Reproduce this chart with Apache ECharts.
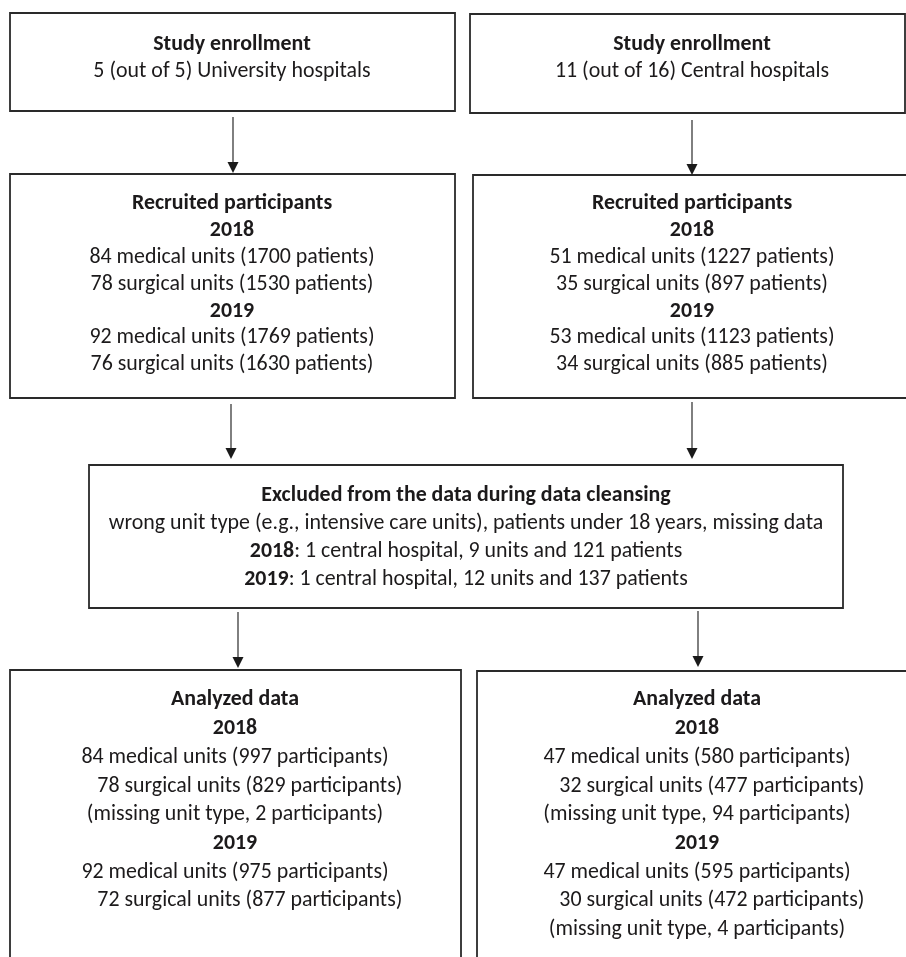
<!DOCTYPE html>
<html>
<head>
<meta charset="utf-8">
<script src="https://cdn.jsdelivr.net/npm/echarts@6/dist/echarts.min.js"></script>
<style>
html,body{margin:0;padding:0;background:#fff;}
#chart{width:906px;height:957px;}
</style>
</head>
<body>
<div id="chart"></div>
<script>
// ---------- content ----------
const enrollTitle = "Study enrollment";
const enrollLeft = "5 (out of 5) University hospitals";
const enrollRight = "11 (out of 16) Central hospitals";
const recruitTitle = "Recruited participants";
const years = ["2018", "2019"];
const recruitLeft = [
  ["84 medical units (1700 patients)", "78 surgical units (1530 patients)"],
  ["92 medical units (1769 patients)", "76 surgical units (1630 patients)"]
];
const recruitRight = [
  ["51 medical units (1227 patients)", "35 surgical units (897 patients)"],
  ["53 medical units (1123 patients)", "34 surgical units (885 patients)"]
];
const excludedTitle = "Excluded from the data during data cleansing";
const excludedReason = "wrong unit type (e.g., intensive care units), patients under 18 years, missing data";
const excludedByYear = [
  "1 central hospital, 9 units and 121 patients",
  "1 central hospital, 12 units and 137 patients"
];
const analyzedTitle = "Analyzed data";
const IND = "\u00a0\u00a0\u00a0\u00a0\u00a0\u00a0";
const analyzedLeft = [
  ["84 medical units (997 participants)", IND + "78 surgical units (829 participants)", "(missing unit type, 2 participants)"],
  ["92 medical units (975 participants)", IND + "72 surgical units (877 participants)"]
];
const analyzedRight = [
  ["47 medical units (580 participants)", IND + "32 surgical units (477 participants)", "(missing unit type, 94 participants)"],
  ["47 medical units (595 participants)", IND + "30 surgical units (472 participants)", "(missing unit type, 4 participants)"]
];

// ---------- styles ----------
const FONT = "Carlito, Lato, 'Open Sans', sans-serif";
const TXT = "#1c1a1b";
const LINE = "#2a2a2a";
const cv = document.createElement('canvas').getContext('2d');
cv.font = "normal 100px " + FONT;
const FS = Math.min(22, 100 * 715 / cv.measureText(excludedReason).width);

const chart = echarts.init(document.getElementById('chart'), null, {renderer: 'canvas'});
const els = [];

function box(x, y, w, h) {
  els.push({type: 'rect', shape: {x: x, y: y, width: w, height: h},
    style: {fill: '#fff', stroke: LINE, lineWidth: 1.8}, z: 1});
}
function text(str, cx, cy, bold) {
  els.push({type: 'text', x: cx, y: cy, z: 3,
    style: {text: str, fill: TXT, fontFamily: FONT, fontSize: FS,
      fontWeight: bold ? 'bold' : 'normal', align: 'center', verticalAlign: 'middle'}});
}
function richText(boldPart, rest, cx, cy) {
  els.push({type: 'text', x: cx, y: cy, z: 3,
    style: {text: '{b|' + boldPart + '}{n|' + rest + '}', align: 'center', verticalAlign: 'middle',
      fontFamily: FONT, fontSize: FS, fill: TXT,
      rich: {b: {fontWeight: 'bold', fontFamily: FONT, fontSize: FS, fill: TXT},
             n: {fontWeight: 'normal', fontFamily: FONT, fontSize: FS, fill: TXT}}}});
}
function arrow(x, y1, y2) {
  els.push({type: 'line', shape: {x1: x, y1: y1, x2: x, y2: y2 - 8},
    style: {stroke: LINE, lineWidth: 1.2}, z: 2});
  els.push({type: 'polygon', shape: {points: [[x - 5.5, y2 - 11], [x + 5.5, y2 - 11], [x, y2]]},
    style: {fill: '#1a1a1a'}, z: 2});
}
function lines(list, cx, y0, dy) {
  list.forEach(function (l, i) {
    if (l.bold) text(l.t, cx, y0 + i * dy, true);
    else if (l.rich) richText(l.rich[0], l.rich[1], cx, y0 + i * dy);
    else text(l.t, cx, y0 + i * dy, false);
  });
}
function yearBlock(title, groups) {
  const out = [{t: title, bold: true}];
  groups.forEach(function (g, i) {
    out.push({t: years[i], bold: true});
    g.forEach(function (s) { out.push({t: s}); });
  });
  return out;
}

// boxes
box(10, 13, 445, 98);
box(470, 14, 435, 99);
box(10, 174, 445, 224);
box(473, 175, 447, 223);
box(89, 465, 754, 143);
box(10, 670, 451, 320);
box(477, 671, 443, 320);

// arrows
arrow(233, 117, 173);
arrow(692, 120, 175);
arrow(231, 404, 459);
arrow(692, 402, 459);
arrow(238, 612, 668);
arrow(698, 611, 667);

// texts
lines([{t: enrollTitle, bold: true}, {t: enrollLeft}], 232, 45, 27);
lines([{t: enrollTitle, bold: true}, {t: enrollRight}], 692, 45, 27);
lines(yearBlock(recruitTitle, recruitLeft), 232, 204, 26.8);
lines(yearBlock(recruitTitle, recruitRight), 692, 204, 26.8);
lines([{t: excludedTitle, bold: true}, {t: excludedReason},
       {rich: [years[0], ': ' + excludedByYear[0]]},
       {rich: [years[1], ': ' + excludedByYear[1]]}], 466, 496, 28);
lines(yearBlock(analyzedTitle, analyzedLeft), 235, 700, 28.7);
lines(yearBlock(analyzedTitle, analyzedRight), 697, 700, 28.7);

chart.setOption({
  backgroundColor: '#ffffff',
  animation: false,
  graphic: {elements: els}
});
</script>
</body>
</html>
